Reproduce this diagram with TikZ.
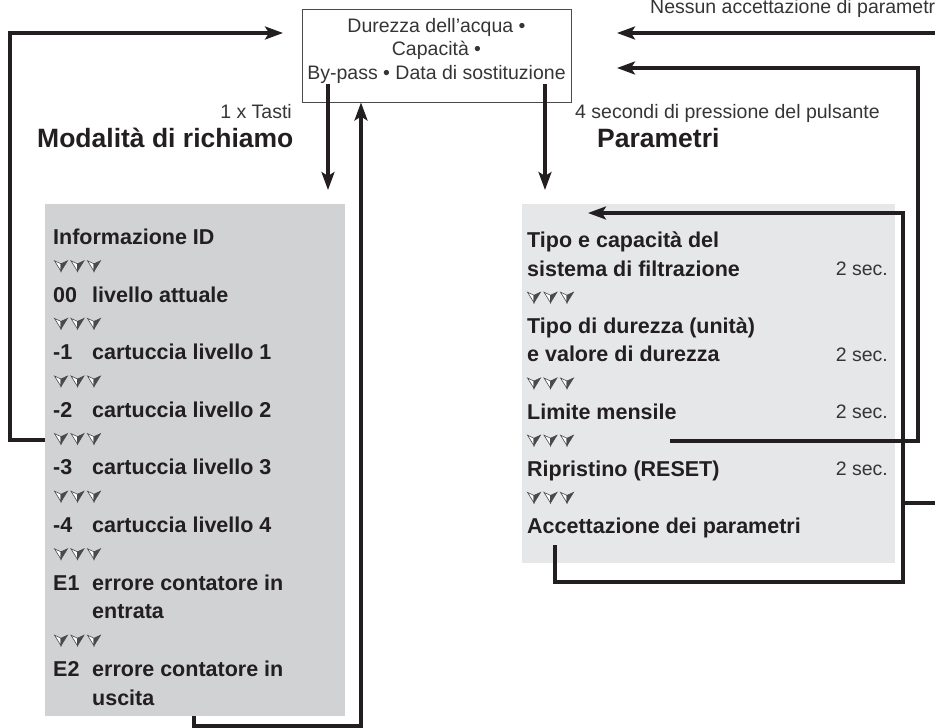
\documentclass[tikz,border=0pt]{standalone}
\usepackage{fontspec}
\setmainfont{Liberation Sans}
\usetikzlibrary{arrows.meta}
\definecolor{ink}{HTML}{231F20}
\definecolor{txt}{HTML}{353535}
\definecolor{lgray}{HTML}{D1D2D4}
\definecolor{rgray}{HTML}{E6E7E8}
\definecolor{vdark}{HTML}{4A4A4A}
\tikzset{
  conn/.style={line width=3.1pt, draw=ink},
  arr/.style={conn, -{Stealth[length=18pt,width=13pt,inset=4pt]}},
  boldtxt/.style={font=\fontsize{21.5}{25}\selectfont\bfseries, text=ink, inner sep=0pt, anchor=base west},
  regtxt/.style={font=\fontsize{19.5}{23}\selectfont, text=txt, inner sep=0pt},
  titletxt/.style={font=\fontsize{26.5}{30}\selectfont\bfseries, text=ink, inner sep=0pt, anchor=base west},
  panel/.style={inner sep=0pt, anchor=north west, draw=none},
  vvv/.pic={
    \foreach \k in {0,1,2}{
      \begin{scope}[shift={(\k*16.5,0)}]
        \filldraw[fill=white, draw=vdark, line width=0.6pt] (-6.5,-5) -- (0,5.5) -- (0,-2) -- cycle;
        \filldraw[fill=vdark, draw=vdark, line width=0.6pt] (0,-2) -- (0,5.5) -- (6.5,-5) -- cycle;
      \end{scope}
    }
  }
}
\begin{document}
\begin{tikzpicture}[x=1pt,y=-1pt]
\useasboundingbox (0,0) rectangle (935,728);
\clip (0,0) rectangle (935,728);

% panels
\node[panel, fill=lgray, minimum width=300pt, minimum height=512pt] (lbox) at (45,204) {};
\node[panel, fill=rgray, minimum width=373pt, minimum height=359pt] (rbox) at (522,204) {};

% top box
\node[draw=vdark, line width=1pt, minimum width=269pt, minimum height=93pt, inner sep=0pt] (top) at (436.5,55.5) {};
\node[regtxt, anchor=base] (t1) at (436.5,32) {Durezza dell’acqua •};
\node[regtxt, anchor=base] (t2) at (436.5,55) {Capacità •};
\node[regtxt, anchor=base] (t3) at (436.5,79) {By-pass • Data di sostituzione};

% labels
\node[regtxt, anchor=base east] (tasti) at (292,118) {1 x Tasti};
\node[regtxt, anchor=base west] (quattro) at (575,118) {4 secondi di pressione del pulsante};
\node[regtxt, anchor=base west] (nessun) at (650,13) {Nessun accettazione di parametri};
\node[titletxt] (tl) at (37,147) {Modalità di richiamo};
\node[titletxt] (tr) at (597,147) {Parametri};

% left panel content
\node[boldtxt] (l0) at (53,244.5) {Informazione ID};
\foreach \r/\a/\b in {2/00/livello attuale, 4/-1/cartuccia livello 1, 6/-2/cartuccia livello 2, 8/-3/cartuccia livello 3, 10/-4/cartuccia livello 4, 12/E1/errore contatore in, 15/E2/errore contatore in}{
  \node[boldtxt] (la\r) at (53,{237+28.8*\r+7.5}) {\a};
  \node[boldtxt] (lb\r) at (92,{237+28.8*\r+7.5}) {\b};
}
\node[boldtxt] (lb13) at (92,{237+28.8*13+7.5}) {entrata};
\node[boldtxt] (lb16) at (92,{237+28.8*16+7.5}) {uscita};
\foreach \r in {1,3,5,7,9,11,14}{
  \pic at (61,{237+28.8*\r}) {vvv};
}

% right panel content
\foreach \r/\a in {0/Tipo e capacità del, 1/sistema di filtrazione, 3/Tipo di durezza (unità), 4/e valore di durezza, 6/Limite mensile, 8/Ripristino (RESET), 10/Accettazione dei parametri}{
  \node[boldtxt] (r\r) at (527,{240+28.6*\r+7.5}) {\a};
}
\foreach \r in {1,4,6,8}{
  \node[regtxt, anchor=base east] (s\r) at (888,{240+28.6*\r+7}) {2 sec.};
}
\foreach \r in {2,5,7,9}{
  \pic at (534,{240+28.6*\r}) {vvv};
}

% connector coordinates
\coordinate (a1) at (lbox.west |- 0,440);
\coordinate (a2) at (10,440);
\coordinate (a3) at (10,33);
\coordinate (a4) at (283,33);

\coordinate (b1) at (328,84);
\coordinate (b2) at (328,190);

\coordinate (c1) at (194,716);
\coordinate (c2) at (194,726);
\coordinate (c3) at (361,726);
\coordinate (c4) at (361,102.5);

\coordinate (d1) at (545,84);
\coordinate (d2) at (545,190);

\coordinate (e1) at (555,545);
\coordinate (e2) at (555,582);
\coordinate (e3) at (903,582);
\coordinate (e4) at (903,213);
\coordinate (e5) at (588,213);

\coordinate (f1) at (670,441);
\coordinate (f2) at (918,441);
\coordinate (f3) at (918,68);
\coordinate (f4) at (617,68);

\coordinate (g1) at (903,503);
\coordinate (g2) at (945,503);
\coordinate (h1) at (945,33);
\coordinate (h2) at (617,33);

% connectors
\draw[arr] (a1) -- (a2) -- (a3) -- (a4);
\draw[arr] (b1) -- (b2);
\draw[arr] (c1) -- (c2) -- (c3) -- (c4);
\draw[arr] (d1) -- (d2);
\draw[arr] (e1) -- (e2) -- (e3) -- (e4) -- (e5);
\draw[arr] (f1) -- (f2) -- (f3) -- (f4);
\draw[conn] (g1) -- (g2);
\draw[arr] (h1) -- (h2);
\end{tikzpicture}
\end{document}
